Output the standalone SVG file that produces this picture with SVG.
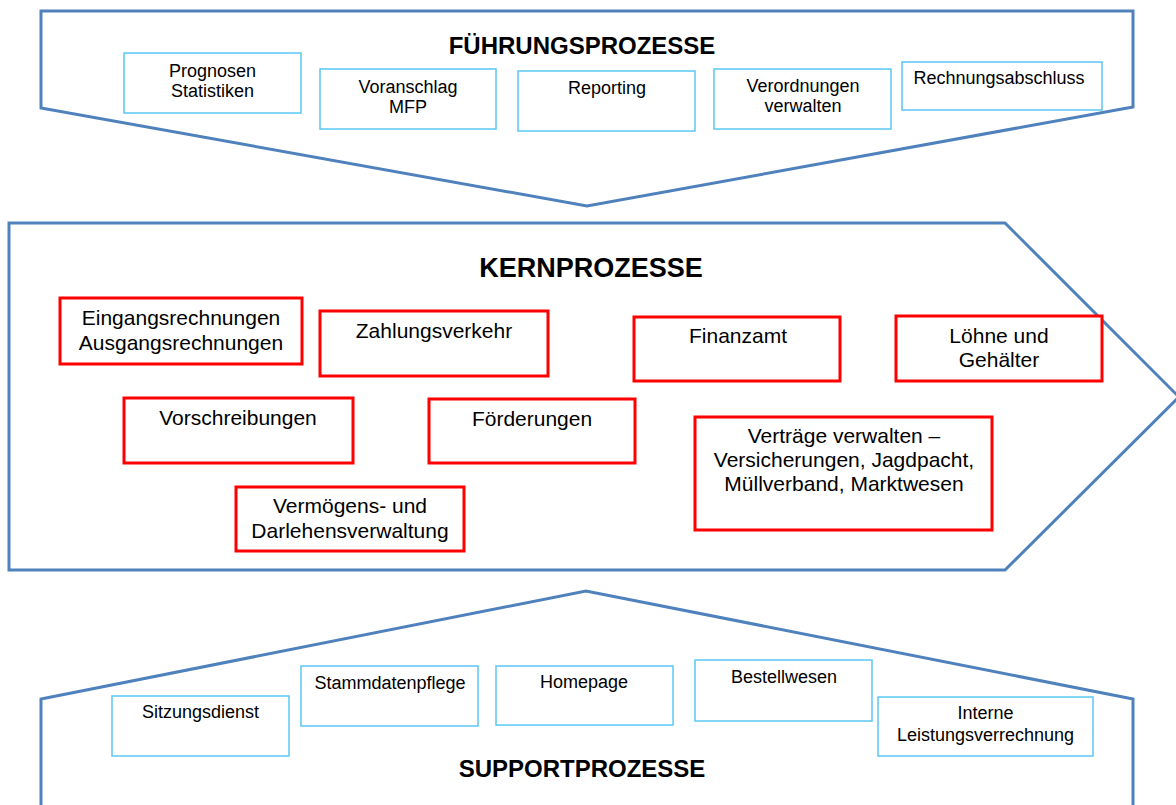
<svg xmlns="http://www.w3.org/2000/svg" width="1176" height="805" viewBox="0 0 1176 805">
<style>
.frame{fill:#ffffff;stroke:#4F81BD;stroke-width:3;stroke-linejoin:miter}
.bb{fill:#ffffff;stroke:#5BC8F5;stroke-width:1.5}
.rb{fill:#ffffff;stroke:#FF0000;stroke-width:3}
.t{font-family:"Liberation Sans",Arial,sans-serif;fill:#000;text-anchor:middle}
.s{font-size:18px}
.k{font-size:21px}
.h{font-weight:bold}
</style>
<rect width="1176" height="805" fill="#ffffff"/>
<g id="fuehrung-frame">
<polygon class="frame" points="41,11 1133,11 1133,107 587,206 41,108"/>
<text class="t h" x="582" y="54" font-size="24">FÜHRUNGSPROZESSE</text>
</g>
<g id="kern-frame">
<polygon class="frame" points="9,223 1005,223 1179,397 1005,570 9,570"/>
<text class="t h" x="591" y="277" font-size="27">KERNPROZESSE</text>
</g>
<g id="support-frame">
<polyline class="frame" points="41,810 41,699 586,591 1133,699 1133,810"/>
<text class="t h" x="582" y="777" font-size="24">SUPPORTPROZESSE</text>
</g>
<g id="connectors"></g>
<g id="prognosen"><rect class="bb" x="124" y="53" width="177" height="60"/><text class="t s" x="212.5" y="77">Prognosen</text><text class="t s" x="212.5" y="97">Statistiken</text></g>
<g id="voranschlag"><rect class="bb" x="320" y="69" width="176" height="60"/><text class="t s" x="408" y="92.5">Voranschlag</text><text class="t s" x="408" y="112.5">MFP</text></g>
<g id="reporting"><rect class="bb" x="518" y="71" width="177" height="60"/><text class="t s" x="607" y="94">Reporting</text></g>
<g id="verordnungen"><rect class="bb" x="714" y="69" width="177" height="60"/><text class="t s" x="803" y="91.5">Verordnungen</text><text class="t s" x="803" y="111.5">verwalten</text></g>
<g id="rechnungsabschluss"><rect class="bb" x="902" y="62" width="200" height="48"/><text class="t s" x="999" y="84">Rechnungsabschluss</text></g>
<g id="eingangsrechnungen"><rect class="rb" x="60" y="298" width="242" height="66"/><text class="t k" x="181" y="325">Eingangsrechnungen</text><text class="t k" x="181" y="349.5">Ausgangsrechnungen</text></g>
<g id="zahlungsverkehr"><rect class="rb" x="320" y="311" width="228" height="65"/><text class="t k" x="434" y="338">Zahlungsverkehr</text></g>
<g id="finanzamt"><rect class="rb" x="634" y="317" width="206" height="64"/><text class="t k" x="738" y="343">Finanzamt</text></g>
<g id="loehne"><rect class="rb" x="896" y="316" width="206" height="65"/><text class="t k" x="999" y="343">Löhne und</text><text class="t k" x="999" y="367">Gehälter</text></g>
<g id="vorschreibungen"><rect class="rb" x="124" y="398" width="229" height="65"/><text class="t k" x="238" y="425">Vorschreibungen</text></g>
<g id="foerderungen"><rect class="rb" x="429" y="399" width="206" height="64"/><text class="t k" x="532" y="426">Förderungen</text></g>
<g id="vertraege"><rect class="rb" x="695" y="417" width="297" height="113"/><text class="t k" x="844" y="443">Verträge verwalten –</text><text class="t k" x="844" y="467">Versicherungen, Jagdpacht,</text><text class="t k" x="844" y="491">Müllverband, Marktwesen</text></g>
<g id="vermoegen"><rect class="rb" x="236" y="487" width="228" height="64"/><text class="t k" x="350" y="513">Vermögens- und</text><text class="t k" x="350" y="537.5">Darlehensverwaltung</text></g>
<g id="sitzungsdienst"><rect class="bb" x="112" y="696" width="177" height="60"/><text class="t s" x="200.5" y="718">Sitzungsdienst</text></g>
<g id="stammdatenpflege"><rect class="bb" x="301" y="666" width="177" height="60"/><text class="t s" x="390" y="689">Stammdatenpflege</text></g>
<g id="homepage"><rect class="bb" x="496" y="666" width="177" height="59"/><text class="t s" x="584" y="688">Homepage</text></g>
<g id="bestellwesen"><rect class="bb" x="695" y="660" width="177" height="61"/><text class="t s" x="784" y="683">Bestellwesen</text></g>
<g id="interne"><rect class="bb" x="878" y="697" width="215" height="59"/><text class="t s" x="985.5" y="719">Interne</text><text class="t s" x="985.5" y="740.5">Leistungsverrechnung</text></g>
</svg>
